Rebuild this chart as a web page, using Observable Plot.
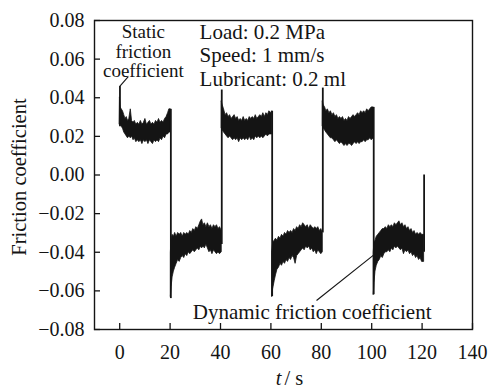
<!DOCTYPE html>
<html><head><meta charset="utf-8">
<script src="https://cdn.jsdelivr.net/npm/d3@7"></script>
<script src="https://cdn.jsdelivr.net/npm/@observablehq/plot@0.6"></script>
<style>html,body{margin:0;padding:0;background:#fff}</style>
</head><body><div id="chart"></div>
<script>
const xTicks = [0, 20, 40, 60, 80, 100, 120, 140];
const yTicks = [-0.08, -0.06, -0.04, -0.02, 0, 0.02, 0.04, 0.06, 0.08];
const yTickLabels = ["−0.08", "−0.06", "−0.04", "−0.02", "0.00", "0.02", "0.04", "0.06", "0.08"];

// [time, lower edge, upper edge] of the noisy friction trace
const segment1 = [[0.1,0.026,0.040],[0.4,0.026,0.035],[0.8,0.025,0.034],[1.3,0.024,0.033],[1.8,0.022,0.031],[2.3,0.021,0.029],[2.8,0.020,0.030],[3.3,0.019,0.028],[3.8,0.020,0.029],[4.4,0.019,0.034],[4.9,0.020,0.028],[5.5,0.018,0.027],[6,0.019,0.028],[6.6,0.017,0.026],[7.2,0.018,0.027],[7.8,0.017,0.026],[8.4,0.018,0.028],[9,0.016,0.026],[9.6,0.018,0.027],[10.2,0.017,0.029],[10.8,0.018,0.026],[11.4,0.016,0.027],[12,0.018,0.028],[12.6,0.017,0.026],[13.2,0.016,0.027],[13.8,0.018,0.026],[14.4,0.017,0.028],[15,0.018,0.027],[15.6,0.017,0.029],[16.2,0.019,0.027],[16.8,0.018,0.028],[17.4,0.020,0.027],[18,0.019,0.029],[18.6,0.021,0.030],[19.2,0.021,0.032],[19.7,0.022,0.034],[20.3,0.022,0.034]];
const segment2 = [[20.3,-0.063,-0.040],[20.6,-0.058,-0.033],[21,-0.053,-0.031],[21.5,-0.050,-0.032],[22,-0.048,-0.030],[22.6,-0.046,-0.032],[23.2,-0.044,-0.030],[23.8,-0.045,-0.031],[24.4,-0.043,-0.030],[25,-0.042,-0.032],[25.6,-0.043,-0.030],[26.2,-0.041,-0.031],[26.8,-0.042,-0.030],[27.4,-0.040,-0.031],[28,-0.041,-0.029],[28.6,-0.040,-0.030],[29.2,-0.039,-0.028],[29.8,-0.040,-0.029],[30.4,-0.039,-0.027],[31,-0.038,-0.028],[31.6,-0.039,-0.026],[32.2,-0.037,-0.024],[32.7,-0.038,-0.023],[33.2,-0.037,-0.026],[33.8,-0.038,-0.025],[34.4,-0.036,-0.027],[35,-0.038,-0.025],[35.6,-0.040,-0.027],[36.2,-0.039,-0.026],[36.8,-0.041,-0.028],[37.4,-0.039,-0.026],[38,-0.040,-0.027],[38.6,-0.041,-0.026],[39.2,-0.040,-0.028],[39.8,-0.041,-0.027],[40.5,-0.040,-0.029]];
const segment3 = [[40.5,0.024,0.038],[40.9,0.023,0.036],[41.4,0.022,0.034],[42,0.021,0.031],[42.6,0.020,0.032],[43.2,0.019,0.030],[43.8,0.020,0.031],[44.4,0.019,0.029],[45,0.018,0.030],[45.6,0.019,0.031],[46.2,0.018,0.029],[46.8,0.019,0.030],[47.4,0.017,0.028],[48,0.019,0.029],[48.6,0.018,0.028],[49.2,0.019,0.030],[49.8,0.018,0.028],[50.4,0.019,0.029],[51,0.018,0.028],[51.6,0.020,0.030],[52.2,0.018,0.029],[52.8,0.019,0.030],[53.4,0.018,0.029],[54,0.020,0.031],[54.6,0.019,0.029],[55.2,0.020,0.030],[55.8,0.019,0.031],[56.4,0.020,0.030],[57,0.019,0.032],[57.6,0.020,0.030],[58.2,0.021,0.032],[58.8,0.020,0.031],[59.4,0.021,0.033],[60,0.021,0.032],[60.5,0.021,0.033]];
const segment4 = [[60.5,-0.063,-0.040],[60.9,-0.059,-0.035],[61.5,-0.055,-0.034],[62,-0.052,-0.033],[62.6,-0.049,-0.034],[63.2,-0.048,-0.032],[63.8,-0.046,-0.033],[64.4,-0.047,-0.031],[65,-0.045,-0.032],[65.6,-0.046,-0.030],[66.2,-0.044,-0.031],[66.8,-0.045,-0.029],[67.4,-0.043,-0.030],[68,-0.044,-0.029],[68.6,-0.042,-0.030],[69.2,-0.043,-0.028],[69.8,-0.046,-0.029],[70.4,-0.042,-0.027],[71,-0.041,-0.028],[71.6,-0.040,-0.026],[72.2,-0.039,-0.027],[72.8,-0.038,-0.025],[73.4,-0.039,-0.026],[74,-0.037,-0.027],[74.6,-0.038,-0.026],[75.2,-0.037,-0.028],[75.8,-0.039,-0.026],[76.4,-0.038,-0.027],[77,-0.040,-0.028],[77.6,-0.039,-0.027],[78.2,-0.041,-0.028],[78.8,-0.039,-0.027],[79.4,-0.040,-0.029],[80,-0.041,-0.028],[80.6,-0.040,-0.030]];
const segment5 = [[80.6,0.025,0.038],[81,0.024,0.036],[81.5,0.023,0.035],[82,0.022,0.033],[82.6,0.021,0.034],[83.2,0.020,0.032],[83.8,0.019,0.033],[84.4,0.019,0.031],[85,0.018,0.032],[85.6,0.017,0.030],[86.2,0.018,0.031],[86.8,0.017,0.029],[87.4,0.016,0.030],[88,0.017,0.029],[88.6,0.016,0.030],[89.2,0.015,0.028],[89.8,0.016,0.029],[90.4,0.015,0.028],[91,0.016,0.030],[91.6,0.016,0.029],[92.2,0.015,0.030],[92.8,0.016,0.031],[93.4,0.017,0.030],[94,0.016,0.031],[94.6,0.017,0.032],[95.2,0.016,0.031],[95.8,0.017,0.033],[96.4,0.017,0.032],[97,0.018,0.033],[97.6,0.017,0.032],[98.2,0.018,0.034],[98.8,0.018,0.033],[99.4,0.019,0.034],[100,0.018,0.035],[100.8,0.019,0.035]];
const segment6 = [[100.8,-0.062,-0.040],[101.1,-0.056,-0.035],[101.5,-0.050,-0.034],[102,-0.047,-0.032],[102.6,-0.045,-0.031],[103.2,-0.044,-0.030],[103.8,-0.042,-0.029],[104.4,-0.043,-0.028],[105,-0.041,-0.028],[105.6,-0.040,-0.027],[106.2,-0.040,-0.028],[106.8,-0.039,-0.026],[107.4,-0.040,-0.027],[108,-0.038,-0.026],[108.6,-0.039,-0.027],[109.2,-0.037,-0.025],[109.8,-0.038,-0.026],[110.4,-0.037,-0.025],[111,-0.038,-0.024],[111.6,-0.039,-0.026],[112.2,-0.038,-0.025],[112.8,-0.041,-0.027],[113.4,-0.039,-0.026],[114,-0.040,-0.028],[114.6,-0.039,-0.027],[115.2,-0.041,-0.029],[115.8,-0.040,-0.028],[116.4,-0.042,-0.030],[117,-0.041,-0.029],[117.6,-0.043,-0.031],[118.2,-0.042,-0.030],[118.8,-0.044,-0.031],[119.4,-0.043,-0.030],[120,-0.045,-0.031],[120.8,-0.045,-0.031]];

// vertical jumps between sliding directions
const jumpTime = [0.1, 20.3, 40.5, 60.5, 80.6, 100.8, 120.8];
const jumpFrom = [0.025, 0.034, -0.036, 0.033, -0.030, 0.035, -0.040];
const jumpTo   = [0.046, -0.064, 0.044, -0.063, 0.045, -0.062, 0.000];

const staticLabel = ["Static", "friction", "coefficient"];
const conditions = ["Load: 0.2 MPa", "Speed: 1 mm/s", "Lubricant: 0.2 ml"];
const dynamicLabel = "Dynamic friction coefficient";
const yTitle = "Friction coefficient";

const segments = [segment1, segment2, segment3, segment4, segment5, segment6];
const band = segments.flatMap((s, k) => s.map(([t, lo, hi]) => ({t, lo, hi, seg: k})));
const jumps = jumpTime.map((t, i) => ({t, from: jumpFrom[i], to: jumpTo[i]}));
const ink = "#141414";
const serif = "'Liberation Serif','Times New Roman',serif";

const chart = Plot.plot({
  width: 491, height: 388,
  marginLeft: 94, marginRight: 19, marginTop: 20, marginBottom: 59,
  x: {domain: [-10, 140]},
  y: {domain: [-0.08, 0.08]},
  style: {fontFamily: serif, fontSize: "20px", color: ink, background: "#fff", overflow: "visible"},
  marks: [
    Plot.areaY(band, {x: "t", y1: "lo", y2: "hi", z: "seg", fill: ink, stroke: ink, strokeWidth: 0.8, curve: "linear"}),
    Plot.ruleX(jumps, {x: "t", y1: "from", y2: "to", stroke: ink, strokeWidth: 1.8}),
    Plot.frame({stroke: ink, strokeWidth: 1.4}),
    Plot.ruleX(xTicks, {x: d => d, y1: -0.08, y2: -0.08, insetTop: -6, stroke: ink, strokeWidth: 1.3}),
    Plot.ruleY(yTicks, {y: d => d, x1: -10, x2: -10, insetRight: -6, stroke: ink, strokeWidth: 1.3}),
    Plot.axisX({ticks: xTicks, tickSize: 0, tickPadding: 15, label: null, fontFamily: serif}),
    Plot.axisY({ticks: yTicks, tickSize: 0, tickPadding: 10, tickFormat: d => yTickLabels[yTicks.indexOf(d)], label: null, fontFamily: serif}),
    Plot.text([yTitle], {text: d => d, frameAnchor: "left", rotate: -90, dx: -75, dy: 2, textAnchor: "middle", lineAnchor: "middle", fontSize: 20.5, fontFamily: serif}),
    Plot.text(["t"], {text: d => d, frameAnchor: "bottom", dx: -2, dy: 49, textAnchor: "end", lineAnchor: "middle", fontStyle: "italic", fontSize: 20.5, fontFamily: serif}),
    Plot.text(["/ s"], {text: d => d, frameAnchor: "bottom", dx: 1, dy: 49, textAnchor: "start", lineAnchor: "middle", fontSize: 20.5, fontFamily: serif}),
    Plot.text([staticLabel.join("\n")], {text: d => d, x: 9.4, y: 0.0639, textAnchor: "middle", lineAnchor: "middle", lineHeight: 1.02, fontSize: 19, fontFamily: serif}),
    Plot.text([conditions.join("\n")], {text: d => d, x: 31.7, y: 0.0621, textAnchor: "start", lineAnchor: "middle", lineHeight: 1.1, fontSize: 21, fontFamily: serif}),
    Plot.text([dynamicLabel], {text: d => d, x: 29, y: -0.0712, textAnchor: "start", lineAnchor: "middle", fontSize: 21, fontFamily: serif}),
    Plot.link([{x1: 0.2, y1: 0.0462, x2: 3.4, y2: 0.0509}, {x1: 78.1, y1: -0.065, x2: 100.6, y2: -0.0416}], {x1: "x1", y1: "y1", x2: "x2", y2: "y2", stroke: ink, strokeWidth: 1.1})
  ]
});
document.getElementById("chart").appendChild(chart);
</script>
</body></html>
